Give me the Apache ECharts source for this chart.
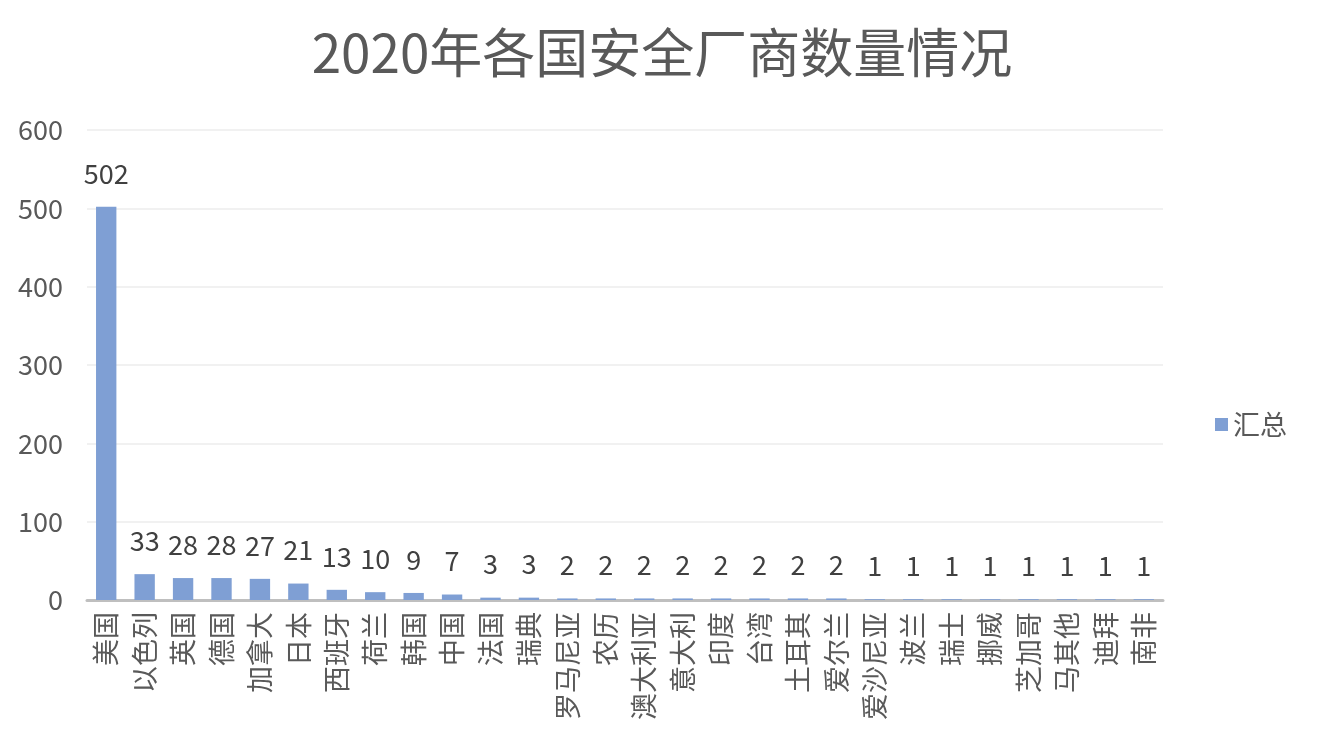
<!DOCTYPE html>
<html><head><meta charset="utf-8">
<script src="https://cdn.jsdelivr.net/npm/echarts@6/dist/echarts.min.js"></script>
<style>html,body{margin:0;padding:0;background:#fff}#c{width:1324px;height:754px}</style>
</head><body><div id="c"></div>
<script>
const categories = ['美国','以色列','英国','德国','加拿大','日本','西班牙','荷兰','韩国','中国','法国','瑞典','罗马尼亚','农历','澳大利亚','意大利','印度','台湾','土耳其','爱尔兰','爱沙尼亚','波兰','瑞士','挪威','芝加哥','马其他','迪拜','南非'];
const values = [502,33,28,28,27,21,13,10,9,7,3,3,2,2,2,2,2,2,2,2,1,1,1,1,1,1,1,1];
const yTicks = [0,100,200,300,400,500,600];
const font = '"Noto Sans CJK SC", "Noto Sans", sans-serif';
const chart = echarts.init(document.getElementById('c'));
chart.setOption({
  backgroundColor: '#fff',
  animation: false,
  title: {
    text: '2020年各国安全厂商数量情况',
    left: 657, textAlign: 'center', top: 21,
    textStyle: {fontFamily: font, fontSize: 53, fontWeight: 'normal', color: '#595959'}
  },
  legend: {
    data: ['汇总'], orient: 'vertical', left: 1210, top: 406,
    itemWidth: 13, itemHeight: 13, itemGap: 6, icon: 'rect',
    textStyle: {fontFamily: font, fontSize: 27, color: '#595959'}
  },
  grid: {left: 87, right: 161, top: 130, bottom: 154, containLabel: false},
  xAxis: {
    type: 'category', data: categories,
    axisLine: {lineStyle: {color: '#bfbfbf', width: 3}},
    axisTick: {show: false},
    axisLabel: {rotate: 90, interval: 0, fontFamily: font, fontSize: 27, color: '#595959', margin: 12}
  },
  yAxis: {
    type: 'value', min: yTicks[0], max: yTicks[yTicks.length-1], interval: 100,
    axisLine: {show: false}, axisTick: {show: false},
    splitLine: {lineStyle: {color: '#ececec', width: 1.5}},
    axisLabel: {fontFamily: font, fontSize: 27, color: '#595959', margin: 24}
  },
  series: [{
    name: '汇总', type: 'bar', data: values, barWidth: '53%',
    itemStyle: {color: '#7f9fd4'},
    label: {show: true, position: 'top', distance: 20, fontFamily: font, fontSize: 27, color: '#404040'}
  }]
});
</script></body></html>
